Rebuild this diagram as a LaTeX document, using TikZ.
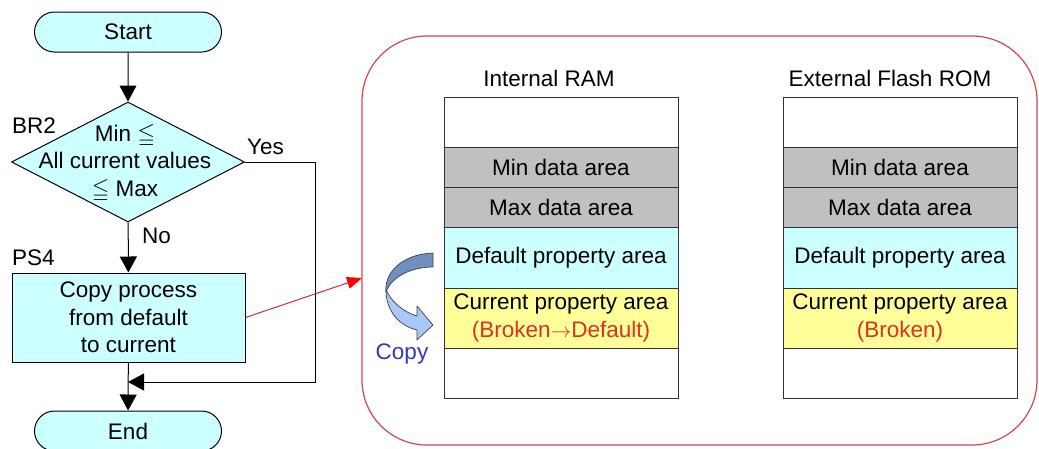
\documentclass[tikz,border=0pt]{standalone}
\usepackage{fontspec}
\setmainfont{Liberation Sans}
\usepackage{amssymb}
\usepackage{xcolor}
\usetikzlibrary{arrows.meta,positioning,shapes.geometric,shapes.misc}
\definecolor{cFlow}{HTML}{CCFFFF}
\definecolor{cGrey}{HTML}{C0C0C0}
\definecolor{cCur}{HTML}{FFFF99}
\definecolor{cFrame}{HTML}{D04848}
\definecolor{cLink}{HTML}{D8283C}
\definecolor{cRed}{HTML}{E03020}
\definecolor{cCopy}{HTML}{3333CC}
\definecolor{cArrDark}{HTML}{6F8FC0}
\definecolor{cArrLight}{HTML}{A8C8F8}
\tikzset{
  >={Triangle[length=16pt,width=17pt]},
  txt/.style={font=\fontsize{22.5}{27.5}\selectfont, align=center},
  term/.style={rounded rectangle, draw=black, fill=cFlow, line width=1pt,
               minimum width=187pt, minimum height=40pt, inner sep=0pt, txt},
  decision/.style={diamond, draw=black, fill=cFlow, line width=1pt,
                   minimum width=233pt, minimum height=120pt, inner sep=0pt},
  proc/.style={rectangle, draw=black, fill=cFlow, line width=1pt,
               minimum width=233pt, minimum height=89pt, inner sep=0pt, txt},
  lbl/.style={txt, inner sep=0pt},
  flow/.style={->, line width=1pt, black},
  link/.style={-{Triangle[length=15pt,width=12pt,color=red]}, draw=cLink, line width=1pt},
  frame/.style={draw=cFrame, line width=1.2pt, rounded corners=65pt, inner sep=0pt},
  area/.style={draw=black!80, fill=#1, line width=1pt, minimum width=234pt,
               inner sep=0pt, outer sep=0pt, txt},
  copypart/.style={fill=#1, draw=black!75, line width=0.7pt, line join=round},
}
\begin{document}
\begin{tikzpicture}[x=1pt, y=-1pt]
  \useasboundingbox (0,0) rectangle (1039,448);

  % flowchart
  \node[term]     (start) at (128,32)    {Start};
  \node[decision] (br2)   at (128,162)   {};
  \node[lbl]      (br2txt) at (125,163)  {Min $\leqq$\\All current values\\$\leqq$ Max};
  \node[proc]     (ps4)   at (128.5,317.5) {Copy process\\from default\\to current};
  \node[term]     (end)   at (128,431)   {End};
  \node[lbl, anchor=base west] (br2lbl) at (12,133)  {BR2};
  \node[lbl, anchor=base west] (yes)    at (247,154) {Yes};
  \node[lbl, anchor=base west] (no)     at (142,243) {No};
  \node[lbl, anchor=base west] (ps4lbl) at (12,265)  {PS4};
  \coordinate (loopr) at (315,382);
  \coordinate (join)  at (128,382);

  \draw[flow] (start) -- (br2);
  \draw[flow] (br2) -- (ps4);
  \draw[flow] (ps4) -- (end);
  \draw[flow] (br2.east) -| (loopr) -- (join);

  % memory map
  \node[frame, minimum width=675pt, minimum height=409pt] (mem) at (699.5,240.5) {};
  \coordinate (hit) at (362,278);
  \draw[link] (ps4.east) -- (hit);

  \node[lbl] (ramtitle) at (549,78) {Internal RAM};
  \node[area=white, minimum height=50pt, anchor=north west] (ram0) at (444,97) {};
  \node[area=cGrey, minimum height=40pt, below=0pt of ram0]   (rammin) {Min data area};
  \node[area=cGrey, minimum height=40pt, below=0pt of rammin] (rammax) {Max data area};
  \node[area=cFlow, minimum height=61pt, below=0pt of rammax] (ramdef) {Default property area};
  \node[area=cCur,  minimum height=60pt, below=0pt of ramdef] (ramcur)
       {Current property area\\\textcolor{cRed}{(Broken$\rightarrow$Default)}};
  \node[area=white, minimum height=50pt, below=0pt of ramcur] (ram9) {};

  \node[lbl] (romtitle) at (890,78) {External Flash ROM};
  \node[area=white, minimum height=50pt, anchor=north west] (rom0) at (783,97) {};
  \node[area=cGrey, minimum height=40pt, below=0pt of rom0]   (rommin) {Min data area};
  \node[area=cGrey, minimum height=40pt, below=0pt of rommin] (rommax) {Max data area};
  \node[area=cFlow, minimum height=61pt, below=0pt of rommax] (romdef) {Default property area};
  \node[area=cCur,  minimum height=60pt, below=0pt of romdef] (romcur)
       {Current property area\\\textcolor{cRed}{(Broken)}};
  \node[area=white, minimum height=50pt, below=0pt of romcur] (rom9) {};

  % copy arrow
  \draw[copypart=cArrLight] (386,290) .. controls (386,312) and (400,326) .. (417,330)
       -- (417,340) -- (433,325) -- (417,306) -- (417,316)
       .. controls (403,312) and (392,302) .. (386,290) -- cycle;
  \draw[copypart=cArrDark] (433,253) -- (433,267)
       .. controls (412,267) and (392,276) .. (386,292)
       .. controls (384,272) and (403,254) .. (433,253) -- cycle;
  \node[lbl, text=cCopy] (copy) at (402,354) {Copy};
\end{tikzpicture}
\end{document}
